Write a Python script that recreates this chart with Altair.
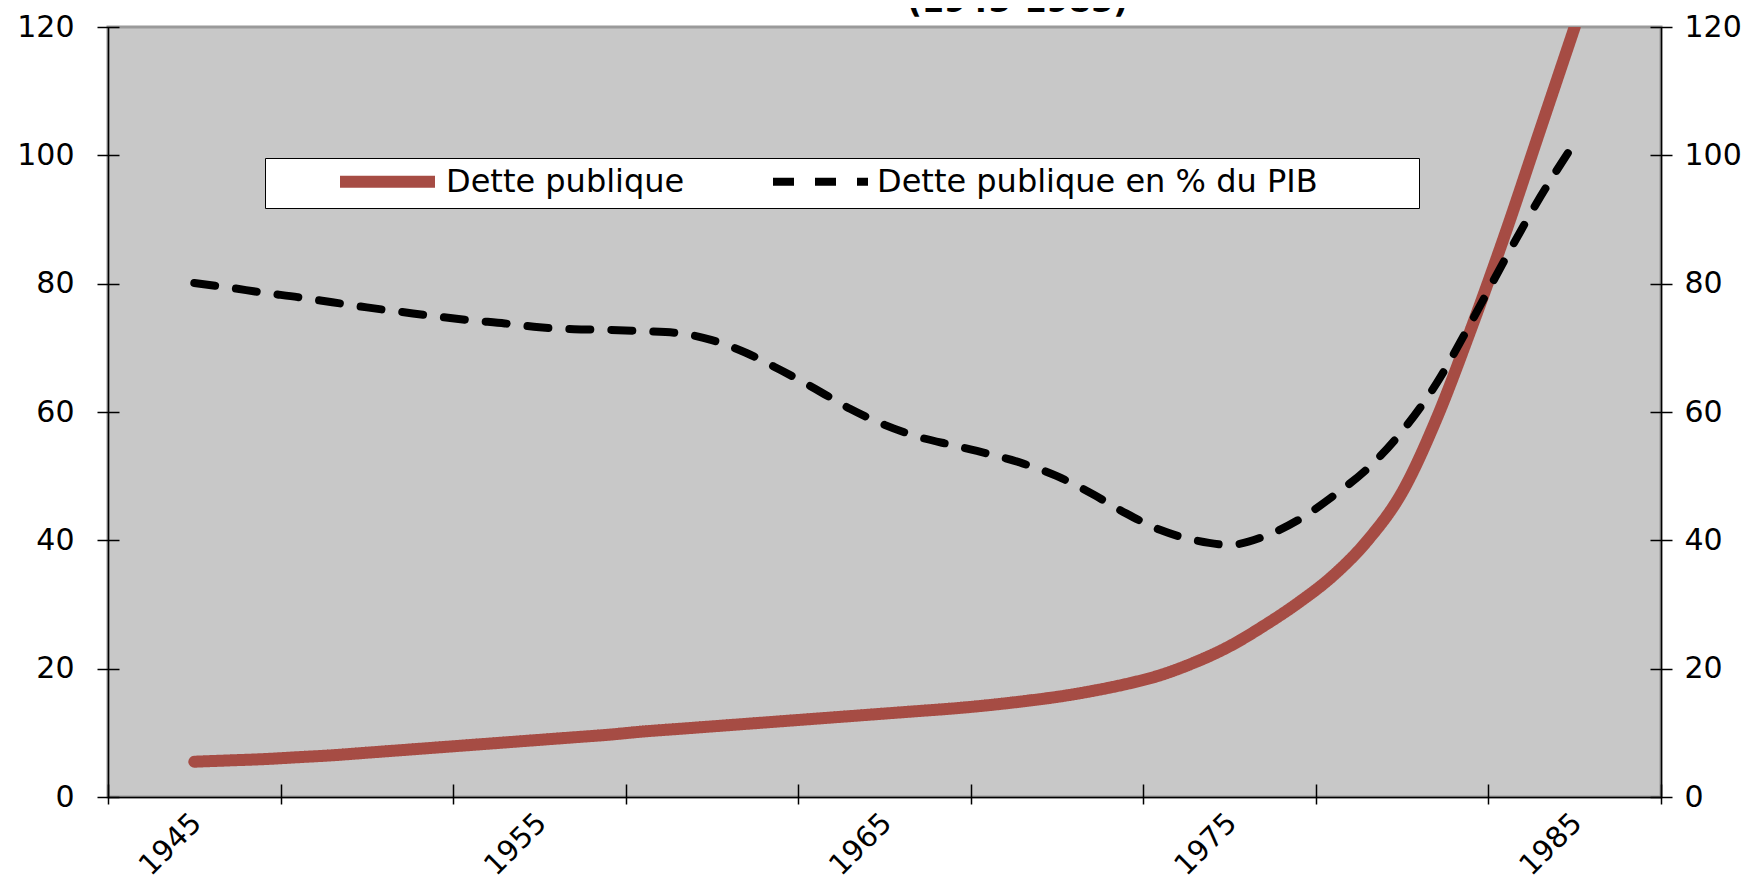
import altair as alt
import pandas as pd

# ---------------- data ----------------
years = list(range(1945, 1986))
dette = [5.5, 5.7, 5.9, 6.2, 6.5, 6.9, 7.3, 7.7, 8.1, 8.5,
         8.9, 9.3, 9.7, 10.2, 10.6, 11.0, 11.4, 11.8, 12.2, 12.6,
         13.0, 13.4, 13.8, 14.3, 14.9, 15.6, 16.5, 17.6, 19.0, 21.0,
         23.5, 26.7, 30.3, 34.5, 40.0, 47.5, 59.0, 73.0, 88.0, 104.0,
         120.0]
dette_pib = [80.1, 79.4, 78.6, 77.9, 77.1, 76.3, 75.6, 74.9, 74.3, 73.8,
             73.2, 72.9, 72.8, 72.6, 72.3, 71.2, 69.2, 66.5, 63.6, 60.5,
             58.0, 56.1, 54.8, 53.5, 52.0, 50.0, 47.3, 44.2, 41.6, 40.0,
             39.3, 40.6, 43.2, 46.9, 51.2, 57.0, 64.5, 74.0, 84.0, 93.5,
             102.0]
series_names = ["Dette publique", "Dette publique en % du PIB"]
x_label_years = [1945, 1955, 1965, 1975, 1985]
x_tick_years = [1942.5, 1947.5, 1952.5, 1957.5, 1962.5, 1967.5, 1972.5, 1977.5, 1982.5, 1987.5]
y_ticks = [0, 20, 40, 60, 80, 100, 120]
title_text = "(1945-1985)"

df_red = pd.DataFrame({"annee": years, "valeur": dette, "serie": series_names[0]})
df_pib = pd.DataFrame({"annee": years, "valeur": dette_pib, "serie": series_names[1]})

FONT = "DejaVu Sans"
FS = 32
FSY = 30
FSX = 29
RED = "#A64C44"

x_scale = alt.Scale(domain=[1942.5, 1987.5], nice=False, zero=False)


def y_scale():
    return alt.Scale(domain=[0, 120], nice=False, zero=True)


def legend():
    return alt.Legend(
        orient="none", legendX=157, legendY=131, direction="horizontal",
        title=" ", titleOrient="right", titlePadding=91, titleFontSize=2,
        fillColor="white", strokeColor="black",
        padding=10, symbolType="stroke", symbolSize=9025, clipHeight=27,
        symbolOffset=59, labelOffset=5, columnPadding=25,
        labelFont=FONT, labelFontSize=FS, labelColor="black",
        labelLimit=0, symbolStrokeWidth=12)


color_enc = alt.Color("serie:N", scale=alt.Scale(domain=series_names, range=[RED, "black"]),
                      legend=legend())
dash_enc = alt.StrokeDash("serie:N", scale=alt.Scale(domain=series_names, range=[[1, 0], [21, 21]]),
                          legend=legend())
width_enc = alt.StrokeWidth("serie:N", scale=alt.Scale(domain=series_names, range=[12, 8]),
                            legend=legend())

ax_x_labels = alt.Axis(orient="bottom", values=x_label_years, format="d", labelAngle=315,
                       labelAlign="right", labelBaseline="top", labelPadding=11, labelOffset=-8,
                       ticks=False, domain=True, domainColor="black", domainWidth=1.5,
                       grid=False, title=None, labelFont=FONT, labelFontSize=FSX,
                       labelColor="black", labelOverlap=False)
ax_x_ticks = alt.Axis(orient="bottom", values=x_tick_years, labels=False, domain=False,
                      ticks=True, tickSize=20, offset=-13, tickColor="black", tickWidth=1.5,
                      grid=False, title=None)
ax_y_left = alt.Axis(orient="left", values=y_ticks, domain=True, domainColor="black",
                     domainWidth=1.5, ticks=False, labelPadding=34, grid=False, title=None,
                     labelFont=FONT, labelFontSize=FSY, labelColor="black")
ax_y_left_ticks = alt.Axis(orient="left", values=y_ticks, labels=False, domain=False,
                           ticks=True, tickSize=22, offset=-11, tickColor="black",
                           tickWidth=1.5, grid=False, title=None)
ax_y_right = alt.Axis(orient="right", values=y_ticks, domain=True, domainColor="black",
                      domainWidth=1.5, ticks=False, labelPadding=23, grid=False, title=None,
                      labelFont=FONT, labelFontSize=FSY, labelColor="black")
ax_y_right_ticks = alt.Axis(orient="right", values=y_ticks, labels=False, domain=False,
                            ticks=True, tickSize=22, offset=-11, tickColor="black",
                            tickWidth=1.5, grid=False, title=None)

line_kw = dict(interpolate="monotone", strokeCap="round", strokeJoin="round", clip=True)

red = alt.Chart(df_red).mark_line(**line_kw).encode(
    x=alt.X("annee:Q", scale=x_scale, axis=ax_x_labels),
    y=alt.Y("valeur:Q", scale=y_scale(), axis=ax_y_left),
    color=color_enc, strokeDash=dash_enc, strokeWidth=width_enc,
)
pib = alt.Chart(df_pib).mark_line(**line_kw).encode(
    x=alt.X("annee:Q", scale=x_scale, axis=ax_x_ticks),
    y=alt.Y("valeur:Q", scale=y_scale(), axis=ax_y_right),
    color=color_enc, strokeDash=dash_enc, strokeWidth=width_enc,
)
red_ticks = alt.Chart(df_red).mark_line(strokeOpacity=0, clip=True).encode(
    x=alt.X("annee:Q", scale=x_scale, axis=None),
    y=alt.Y("valeur:Q", scale=y_scale(), axis=ax_y_left_ticks),
)
pib_ticks = alt.Chart(df_pib).mark_line(strokeOpacity=0, clip=True).encode(
    x=alt.X("annee:Q", scale=x_scale, axis=None),
    y=alt.Y("valeur:Q", scale=y_scale(), axis=ax_y_right_ticks),
)

chart = alt.layer(red_ticks, pib_ticks, red, pib).resolve_scale(
    y="independent"
).resolve_axis(
    x="independent", y="independent"
).properties(
    width=1553, height=770,
    autosize=alt.AutoSizeParams(type="none"),
    padding={"left": 100, "top": 19, "right": 91, "bottom": 88},
    title=alt.TitleParams(title_text, font=FONT, fontSize=32, fontWeight="bold",
                          anchor="middle", frame="group", dx=133, offset=7, dy=14,
                          color="black"),
).configure(
    background="white"
).configure_view(
    fill="#C8C8C8", stroke="#9A9A9A", strokeWidth=3
)

chart.save("out.html", embed_options={"renderer": "svg", "actions": False})
